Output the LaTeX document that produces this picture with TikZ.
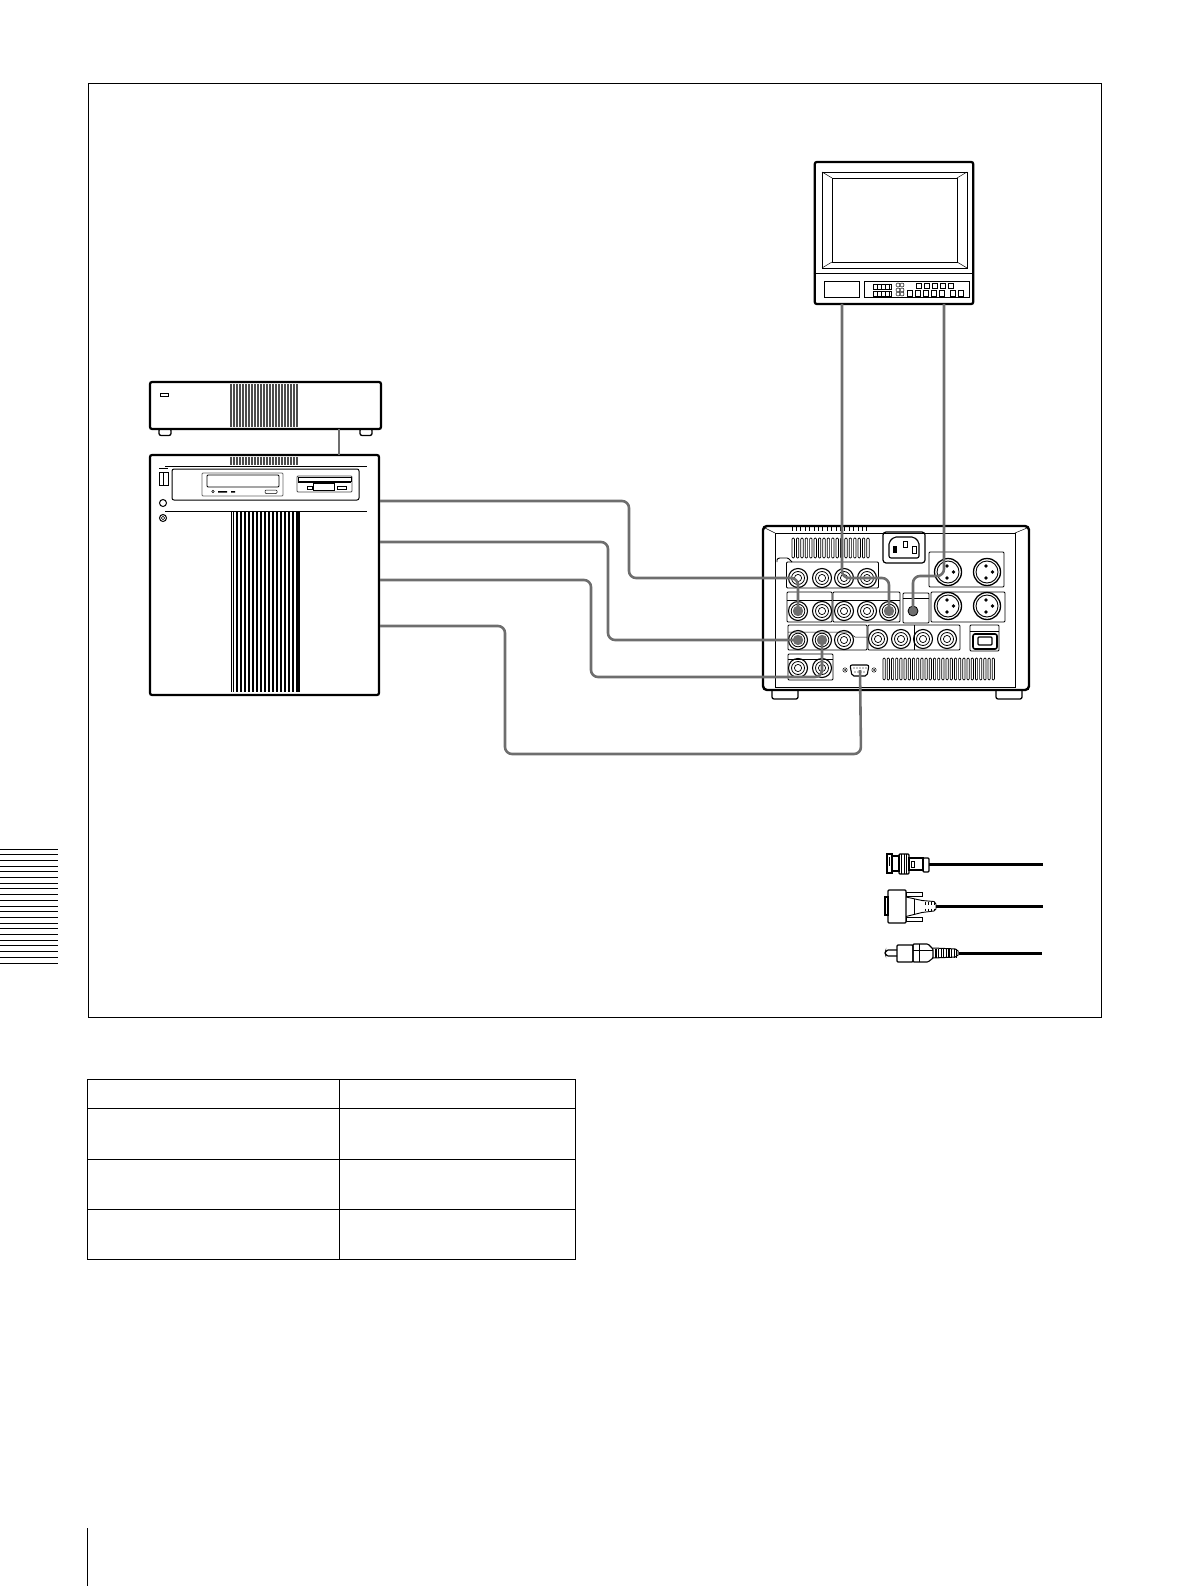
\documentclass[tikz,border=0pt]{standalone}
\usepackage{xcolor}
\usepackage{tikz}
\usetikzlibrary{positioning, calc}
\definecolor{cablegray}{HTML}{6E6E6E}

\begin{document}
\begin{tikzpicture}[
  x=1pt, y=-1pt,
  outline/.style={draw, line width=2.2pt, rounded corners=2pt, inner sep=0pt, fill=white},
  box/.style={draw, line width=1pt, inner sep=0pt},
  panel/.style={draw, line width=.9pt, rounded corners=1pt, inner sep=0pt},
  foot/.style={draw, line width=1.3pt, rounded corners=2pt, inner sep=0pt, fill=white},
  thinline/.style={line width=.8pt},
  fine/.style={line width=.5pt},
  slat/.style={draw, line width=.7pt, rounded corners=1pt},
  bnc/.style={circle, draw, line width=1.1pt, inner sep=0pt, minimum size=19,
              path picture={
                \draw[line width=.8pt] (path picture bounding box.center) circle (6.5);
                \draw[line width=.7pt] (path picture bounding box.center) circle (3.6);}},
  bncon/.style={bnc, path picture={
                \draw[line width=.8pt] (path picture bounding box.center) circle (6.8);
                \fill[cablegray] (path picture bounding box.center) circle (5.2);}},
  xlr/.style={circle, draw, line width=1.3pt, inner sep=0pt, minimum size=27,
              path picture={
                \draw[line width=.9pt] (path picture bounding box.center) circle (11);
                \fill ($(path picture bounding box.center)+(-1,-6)$) circle (1.9);
                \fill ($(path picture bounding box.center)+(-1,6)$) circle (1.9);
                \fill ($(path picture bounding box.center)+(5.5,0)$) circle (1.9);}},
  cable/.style={draw=cablegray, line width=2.6pt, rounded corners=7pt},
  lead/.style={line width=3pt},
  cell/.style={draw, line width=.8pt, inner sep=0pt}
]
\useasboundingbox (0,0) rectangle (1190,1586);

\node[box, minimum width=1013, minimum height=933.5] at (594.5,550.3) (frame) {};
\draw[line width=1pt] (87,1528) -- (87,1586);
\foreach \i in {0,...,20} \draw[line width=.9pt] (0,849+5.7*\i) -- (58,849+5.7*\i);

\foreach \cy/\ch [count=\r] in {1094/29, 1134/51, 1184.5/50, 1234.5/50} {
  \node[cell, minimum width=252, minimum height=\ch] at (213,\cy) (cell-\r-a) {};
  \node[cell, minimum width=236, minimum height=\ch] at (457,\cy) (cell-\r-b) {};
}

\node[outline, minimum width=158.5, minimum height=142] at (894,233) (monitor) {};
\draw[thinline] (monitor.west |- 0,273) -- (monitor.east |- 0,273);
\draw[thinline] (822,172) rectangle (967,268);
\draw[thinline] (832,178) rectangle (957,262);
\draw[fine] (822,172) -- (832,178) (967,172) -- (957,178) (822,268) -- (832,262) (967,268) -- (957,262);
\node[box, minimum width=35, minimum height=16] at (841.5,290) (mon-door) {};
\node[box, minimum width=105, minimum height=16] at (916.5,290) (mon-ctrl) {};
\foreach \y in {284,291} {
  \draw[fine] (873,\y) rectangle (891,\y+5.5);
  \foreach \x in {877,881,885,889} \draw[fine] (\x,\y) -- (\x,\y+5.5);
}
\foreach \y in {285,290,294} \foreach \x in {898,902} \draw[fine] (\x,\y) circle (2);
\foreach \x in {916,924,932,940,948} \draw[line width=.7pt] (\x,283) rectangle ++(5.5,5);
\foreach \x in {907,915,923,931,939,950,958} \draw[line width=.7pt] (\x,290) rectangle ++(5.5,6);

\node[foot, minimum width=12, minimum height=7] at (165,432) (stor-foot-l) {};
\node[foot, minimum width=12, minimum height=7] at (366,432) (stor-foot-r) {};
\node[outline, minimum width=231, minimum height=47] at (265.5,405.5) (storage) {};
\foreach \x in {231,234,...,299} \draw[black!70, line width=1.1pt] (\x,384) -- (\x,427);
\draw[fine] (160,393) rectangle (168,396);

\node[outline, minimum width=229, minimum height=240] at (264.5,575) (server) {};
\foreach \x in {231,234,...,299} \draw[black!70, line width=1.1pt] (\x,457) -- (\x,465);
\draw[thinline] (165,466) -- (367,466);
\draw[thinline] (165,511) -- (367,511);
\node[panel, line width=1pt, rounded corners=2pt, minimum width=187, minimum height=31] at (265.5,484.5) (srv-bay) {};
\node[panel, draw=black!60, minimum width=81, minimum height=23] at (242.5,484.5) (srv-cd) {};
\draw[line width=.9pt, rounded corners=1pt] (207,475) rectangle (279,487);
\fill (218,491) rectangle (227,492.5) (231,491) rectangle (235,492.5);
\draw[fine] (213,491.5) circle (1.3);
\draw[fine, rounded corners=1pt] (265,490) rectangle (277,493.5);
\node[panel, draw=black!70, minimum width=55, minimum height=16] at (324.5,484) (srv-fd) {};
\fill (298,481) rectangle (351,483);
\draw[fine] (298,477.5) rectangle (351,481);
\draw[fine] (307,486) rectangle (312,489);
\draw[fine] (313,483) rectangle (334,490);
\draw[fine] (337,486) rectangle (346,489);
\draw[line width=.9pt] (159,472) rectangle (168,485);
\draw[fine] (159,468) -- (168,468) (163.5,472) -- (163.5,485);
\node[circle, draw, line width=1pt, minimum size=7, inner sep=0pt] at (163,503) (srv-power) {};
\node[circle, draw, line width=1pt, minimum size=7, inner sep=0pt] at (163,518) (srv-screw) {};
\draw[fine] (163,518) circle (1.8);
\foreach \x in {231,232.8,298,299.6} \draw[fine] (\x,512) -- (\x,692);
\foreach \x in {237,241,...,297} \draw[line width=2.3pt] (\x,512) -- (\x,692);

\node[foot, minimum width=26, minimum height=10] at (785,694) (vtr-foot-l) {};
\node[foot, minimum width=26, minimum height=10] at (1009,694) (vtr-foot-r) {};
\node[outline, line width=2.4pt, rounded corners=4pt, minimum width=266, minimum height=164] at (896,608) (vtr) {};
\draw[fine] (775,533) rectangle (1015,687);
\draw[fine] (765,528) -- (775,533) (1027,528) -- (1015,533);
\foreach \x in {792,796.4,...,870} \draw[line width=1pt] (\x,527) -- (\x,531);
\foreach \x in {792,796.4,...,868} \draw[slat] (\x,538) rectangle ++(2.4,20);
\foreach \x in {883,887.2,...,995} \draw[slat] (\x,658) rectangle ++(2.2,22);

\node[panel, line width=1.2pt, rounded corners=3pt, minimum width=42, minimum height=31] at (904,547.5) (vtr-ac) {};
\draw[line width=1.1pt, rounded corners=2pt] (889,542) -- (894,537) -- (914,537) -- (919,542) -- (919,558) -- (889,558) -- cycle;
\fill (893,546) rectangle (897,553);
\draw[line width=.9pt] (903,541) rectangle (907,547);
\draw[line width=.9pt] (912,546) rectangle (916,553);

\draw[panel] (777,562) -- (777,559) -- (779,558) -- (788,558) -- (792,562);
\node[panel, minimum width=92, minimum height=26] at (832.5,575) (pan-out) {};
\node[panel, minimum width=45, minimum height=30] at (809.5,607) (pan-in) {};
\draw[fine] (787,600) -- (832,600);
\node[panel, minimum width=67, minimum height=30] at (866.5,607) (pan-mid) {};
\draw[fine] (833,600) -- (900,600);
\node[panel, minimum width=26, minimum height=30] at (916,608) (pan-jack) {};
\draw[fine] (903,598) -- (929,598);
\node[panel, minimum width=75, minimum height=35] at (966.5,569.5) (pan-xlr-a) {};
\node[panel, minimum width=74, minimum height=30] at (968,607) (pan-xlr-b) {};
\node[panel, minimum width=79, minimum height=25] at (827.5,637.5) (pan-ref) {};
\node[panel, minimum width=92, minimum height=25] at (914,637.5) (pan-aux) {};
\draw[thinline] (914,625) -- (914,650);
\node[panel, minimum width=45, minimum height=26] at (810.5,667) (pan-key) {};
\draw[fine] (788,659) -- (833,659);
\draw[fine] (788,632) -- (848,632) -- (855,637) -- (867,637);

\node[bnc] at (798,578) (bnc-a1) {};
\node[bnc] at (822,578) (bnc-a2) {};
\node[bnc] at (844,578) (bnc-a3) {};
\node[bnc] at (867,578) (bnc-a4) {};
\node[bncon] at (798,611) (bnc-b1) {};
\node[bnc] at (822,611) (bnc-b2) {};
\node[bnc] at (844,611) (bnc-b3) {};
\node[bnc] at (867,611) (bnc-b4) {};
\node[bncon] at (889,611) (bnc-b5) {};
\node[bncon] at (798,640) (bnc-c1) {};
\node[bncon] at (822,640) (bnc-c2) {};
\node[bnc] at (844,640) (bnc-c3) {};
\node[bnc] at (878,639) (bnc-c4) {};
\node[bnc] at (901,639) (bnc-c5) {};
\node[bnc] at (923,639) (bnc-c6) {};
\node[bnc] at (947,639) (bnc-c7) {};
\node[bnc] at (798,668) (bnc-d1) {};
\node[bnc] at (822,668) (bnc-d2) {};
\node[xlr] at (948,572) (xlr-a1) {};
\node[xlr] at (987,572) (xlr-a2) {};
\node[xlr] at (948,606) (xlr-b1) {};
\node[xlr] at (987,606) (xlr-b2) {};
\node[circle, draw, line width=.8pt, fill=cablegray, minimum size=10, inner sep=0pt] at (913,611) (jack) {};

\node[panel, minimum width=29, minimum height=26] at (984.5,638) (pan-fw) {};
\draw[line width=.9pt] (970,631) -- (999,631);
\draw[line width=1.6pt, rounded corners=2pt] (973,634) rectangle (997,649);
\draw[line width=1.1pt, rounded corners=1pt] (978,637) rectangle (992,645);

\draw[line width=1.1pt, rounded corners=2pt] (850,665) -- (869,665) -- (867,676) -- (852,676) -- cycle;
\coordinate (dsub) at (860,670);
\foreach \x in {854,857,860,863,866} \fill (\x,668) circle (.6);
\foreach \x in {855,858,861,864} \fill (\x,672) circle (.6);
\foreach \x in {845,874} {\draw[fine] (\x,670) circle (2.2); \fill (\x,670) circle (1);}

\coordinate (srv-a) at (380,501);
\coordinate (srv-b) at (380,542);
\coordinate (srv-c) at (380,580);
\coordinate (srv-d) at (380,626);
\coordinate (srv-link) at (339,455);
\coordinate (stor-link) at (339,429);
\coordinate (mon-a) at (842,304);
\coordinate (mon-b) at (944,304);

\draw[cablegray, line width=1.6pt] (stor-link) -- (srv-link);
\draw[cable] (srv-a) -- ++(249,0) |- (bnc-a1.center) -- (bnc-b1.center);
\draw[cable] (srv-b) -- ++(228,0) |- (bnc-c1.center);
\draw[cable] (srv-c) -- ++(211,0) |- (822,677) -- (bnc-c2.center);
\draw[cable] (srv-d) -- ++(125,0) |- (861,754) -- (dsub);
\draw[cable] (mon-a) -- (842,578) -- (889,578) -- (bnc-b5.center);
\draw[cable] (mon-b) -- (944,576) -- (913,576) -- (jack.center);

\draw[line width=1.1pt] (887,854) rectangle (892,873);
\fill (888.5,857) rectangle (890,866);
\draw[line width=1.1pt] (892,856) rectangle (899,871);
\draw[line width=1.1pt, rounded corners=1pt] (899,854) rectangle (909,874);
\foreach \x in {901.5,904,906.5} \draw[fine] (\x,854) -- (\x,874);
\draw[line width=1.1pt] (909,858) rectangle (923,870);
\draw[line width=1pt] (911,861) rectangle (914,867);
\draw[line width=1.1pt, rounded corners=1pt] (923,858) rectangle (929,872);
\coordinate (plug-bnc) at (929,864);
\coordinate (end-bnc) at (1043,864);
\draw[lead] (plug-bnc) -- (end-bnc);

\draw[line width=1.1pt] (885,897) rectangle (888,915);
\draw[line width=1.1pt, rounded corners=1pt] (888,890) rectangle (906,923);
\draw[line width=1pt] (906,892) rectangle (922,896) (906,917) rectangle (922,921);
\draw[line width=.9pt] (906,897) -- (922,900.5) -- (934,901.5) -- (936,904) -- (936,909) -- (934,911) -- (922,912.5) -- (906,916.5);
\draw[fine] (914,899) -- (914,914);
\foreach \x in {925,928,931,934} \draw[line width=1pt] (\x,901.5) -- (\x,904.5) (\x,908.5) -- (\x,911);
\coordinate (plug-dsub) at (936,906);
\coordinate (end-dsub) at (1043,906);
\draw[lead] (plug-dsub) -- (end-dsub);

\draw[line width=1.1pt, rounded corners=2pt] (897,950) -- (886,950) -- (885,953) -- (886,956) -- (897,956);
\draw[line width=1.1pt, rounded corners=1pt] (897,945) rectangle (913,962);
\draw[line width=1.1pt, rounded corners=1pt] (913,944) -- (928,944) -- (933,949) -- (933,958) -- (928,962) -- (913,962) -- cycle;
\draw[fine] (913,950) -- (933,950) (919,944) -- (919,962);
\draw[line width=1pt, rounded corners=2pt] (933,948) -- (957,949) -- (959,953) -- (957,957) -- (933,958);
\foreach \x in {936,938.6,...,957} \draw[line width=1.3pt] (\x,948.5) -- (\x,957.5);
\coordinate (plug-rca) at (959,953);
\coordinate (end-rca) at (1042,953);
\draw[lead] (plug-rca) -- (end-rca);
\end{tikzpicture}
\end{document}
